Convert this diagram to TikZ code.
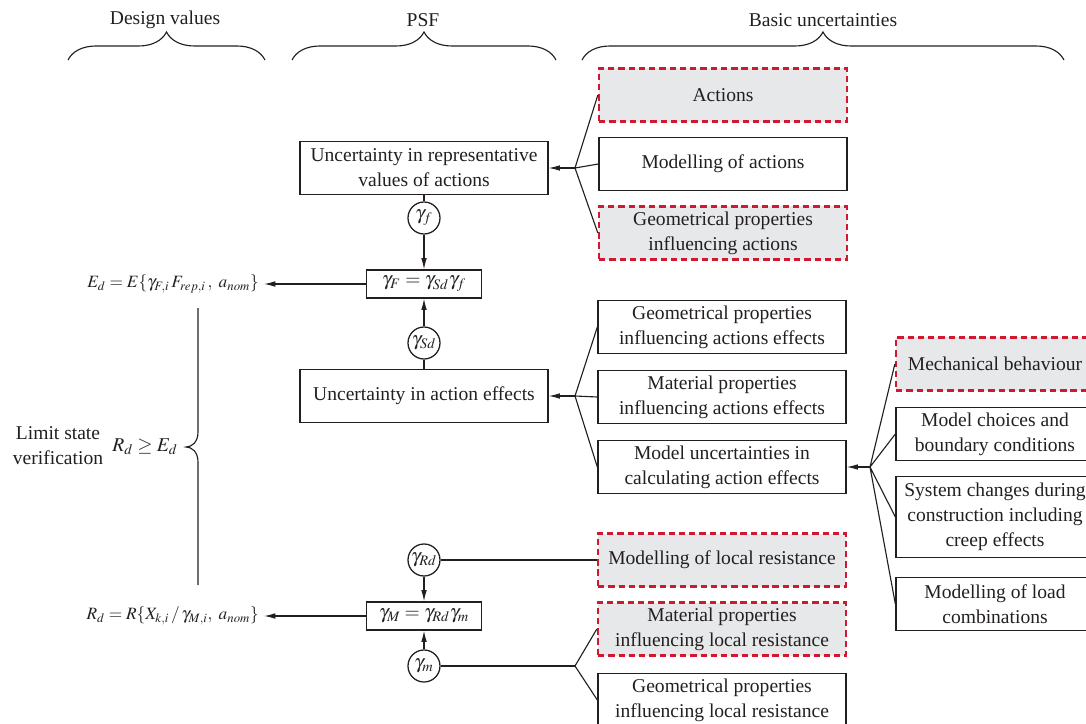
\documentclass[tikz,border=0pt]{standalone}
\usepackage{mathptmx}
\usepackage{fontspec}
\setmainfont{Liberation Serif}
\usepackage{tikz}
\usetikzlibrary{decorations.pathreplacing, arrows.meta, positioning}
\definecolor{ink}{RGB}{35,31,32}
\definecolor{boxred}{RGB}{210,24,48}
\definecolor{boxgray}{RGB}{231,232,234}
\tikzset{
  plainbox/.style={draw=ink, line width=0.9pt, minimum width=6.2cm, minimum height=1.325cm, align=center, inner sep=2pt},
  keybox/.style={plainbox, draw=boxred, fill=boxgray, line width=1.6pt, dash pattern=on 4.5pt off 2.8pt},
  sidebox/.style={plainbox, minimum width=4.95cm},
  factorbox/.style={draw=ink, line width=0.9pt, minimum width=2.875cm, minimum height=0.7cm, inner sep=1pt},
  factor/.style={circle, draw=ink, line width=0.9pt, minimum size=0.8cm, inner sep=0pt},
  formula/.style={font=\fontsize{12.3}{15}\selectfont},
  curly/.style={decorate, decoration={brace, amplitude=0.7cm}, draw=ink, line width=0.8pt},
}

\begin{document}
\begin{tikzpicture}[x=0.025cm, y=-0.025cm, every node/.style={font=\fontsize{13.9}{17.8}\selectfont, text=ink}, >={Latex[length=8pt,width=4pt]}, line width=0.8pt, draw=ink]
  \clip (0,0) rectangle (1086,724);

  % column headings
  \node (hdes) at (165,20) {Design values};
  \node (hpsf) at (423,20) {PSF};
  \node (hbas) at (823,20) {Basic uncertainties};
  \draw[curly] (68,60) -- (265,60);
  \draw[curly] (292,60) -- (556,60);
  \draw[curly] (582,60) -- (1064,60);

  % actions
  \node[keybox] (act) at (723,95) {Actions};
  \node[plainbox] (modact) at (723,164) {Modelling of actions};
  \node[keybox] (geoact) at (723,233) {Geometrical properties\\influencing actions};
  \node[plainbox] (uncrep) at (424,168) {Uncertainty in representative\\values of actions};
  \node[factor] (gf) at (424,218) {$\gamma_f$};
  \node[factorbox] (gF) at (424,284) {$\gamma_F = \gamma_{Sd}\gamma_f$};
  \node[formula, anchor=east] (Ed) at (264,284) {$E_d = E\{\gamma_{F,i}\,F_{rep,i}\,,\ a_{nom}\}$};

  % action effects
  \node[factor] (gSd) at (424,343) {$\gamma_{Sd}$};
  \node[plainbox] (uncae) at (424,396) {Uncertainty in action effects};
  \node[plainbox] (geoae) at (722,327) {Geometrical properties\\influencing actions effects};
  \node[plainbox] (matae) at (722,397) {Material properties\\influencing actions effects};
  \node[plainbox] (modunc) at (722,467) {Model uncertainties in\\calculating action effects};

  % model uncertainties
  \node[keybox, minimum width=4.95cm] (mech) at (995,364) {Mechanical behaviour};
  \node[sidebox] (choice) at (995,434) {Model choices and\\boundary conditions};
  \node[sidebox, minimum height=2.025cm] (syst) at (995,517) {System changes during\\construction including\\creep effects};
  \node[sidebox] (loadc) at (995,604) {Modelling of load\\combinations};

  % resistance
  \node[factor] (gRd) at (424,560) {$\gamma_{Rd}$};
  \node[factorbox] (gM) at (424,616) {$\gamma_M = \gamma_{Rd}\gamma_m$};
  \node[factor] (gm) at (424,666) {$\gamma_m$};
  \node[formula, anchor=east] (Rd) at (264,616) {$R_d = R\{X_{k,i}\,/\,\gamma_{M,i},\ a_{nom}\}$};
  \node[keybox] (modloc) at (722,560) {Modelling of local resistance};
  \node[keybox] (matloc) at (722,629) {Material properties\\influencing local resistance};
  \node[plainbox] (geoloc) at (722,700) {Geometrical properties\\influencing local resistance};

  % limit state
  \node[align=center] (lsv) at (58,446) {Limit state\\verification};
  \node (RE) at (145,447) {$R_d \geq E_d$};
  \draw (198,308) -- (198,432) .. controls (198,442) and (192,447) .. (186,447)
        .. controls (192,447) and (198,452) .. (198,462) -- (198,585);

  % junctions
  \coordinate (jrep) at (575,168);
  \coordinate (jae) at (575,396);
  \coordinate (jmod) at (870,467);
  \coordinate (jloc) at (575,666);

  % connectors
  \draw[->] (jrep) -- (uncrep);
  \draw (jrep) -- (act.west) (jrep) -- (modact.west) (jrep) -- (geoact.west);
  \draw (uncrep) -- (gf);
  \draw[->] (gf) -- (gF);
  \draw[->] (gF) -- (Ed);
  \draw (uncae) -- (gSd);
  \draw[->] (gSd) -- (gF);
  \draw[->] (jae) -- (uncae);
  \draw (jae) -- (geoae.west) (jae) -- (matae.west) (jae) -- (modunc.west);
  \draw[->] (jmod) -- (modunc);
  \draw (jmod) -- (mech.west) (jmod) -- (choice.west) (jmod) -- (syst.west) (jmod) -- (loadc.west);
  \draw (gRd) -- (modloc);
  \draw[->] (gRd) -- (gM);
  \draw[->] (gm) -- (gM);
  \draw[->] (gM) -- (Rd);
  \draw (gm) -- (jloc);
  \draw (jloc) -- (matloc.west) (jloc) -- (geoloc.west);
\end{tikzpicture}
\end{document}
